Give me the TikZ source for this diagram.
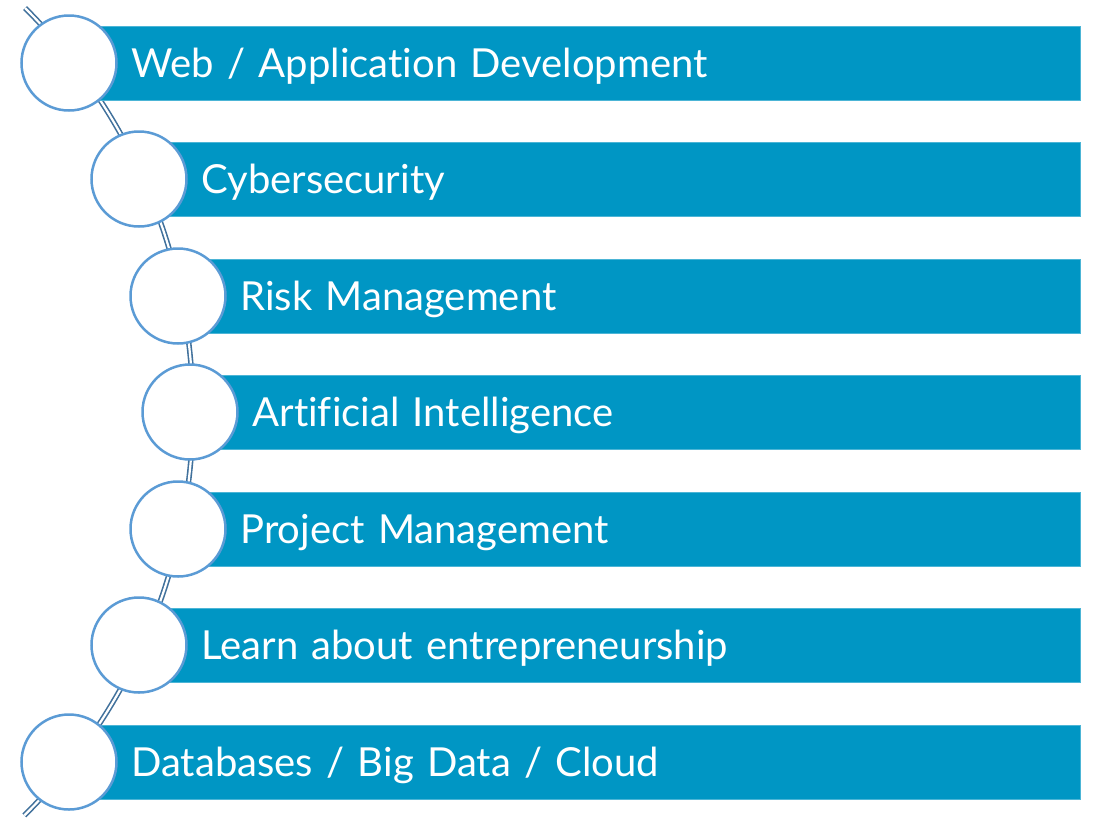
\documentclass[tikz,border=0pt]{standalone}
\usepackage{fontspec}
\setmainfont{Lato}[Ligatures=NoCommon]
\definecolor{barblue}{RGB}{0,150,196}
\definecolor{ringblue}{RGB}{91,155,213}
\definecolor{wireblue}{RGB}{65,113,156}

\begin{document}
\begin{tikzpicture}[x=1pt,y=-1pt,
      bar/.style={rectangle,anchor=west,fill=barblue,draw=barblue!70!white,line width=0.8pt,
        minimum height=74pt,inner xsep=31pt,inner ysep=0pt,align=left,text=white,
        text height=34pt,text depth=6pt,font=\fontsize{40}{46}\selectfont},
      ring/.style={circle,draw=ringblue,fill=white,line width=2.5pt,minimum size=95pt,inner sep=0pt}]
 \useasboundingbox (0,0) rectangle (1094,817);

 % the wire through all rings
 \coordinate (top) at (25,8);
 \draw[wireblue,line width=1.6pt,double=white,double distance=2.2pt]
   (top) arc[start angle=-45.2,end angle=45.3,radius=568.5];

 \node[bar, text width=918pt] (web)  at (100,63)  {Web / Application Development};
 \node[bar, text width=848pt] (cyb)  at (170,179) {Cybersecurity};
 \node[bar, text width=809pt] (risk) at (209,296) {Risk Management};
 \node[bar, text width=797pt] (ai)   at (221,412) {Artificial Intelligence};
 \node[bar, text width=809pt] (pm)   at (209,529) {Project Management};
 \node[bar, text width=848pt] (ent)  at (170,645) {Learn about entrepreneurship};
 \node[bar, text width=918pt] (db)   at (100,762) {Databases / Big Data / Cloud};

 \node[ring] (c1) at (69,63)  {};
 \node[ring] (c2) at (139,179) {};
 \node[ring] (c3) at (178,296) {};
 \node[ring] (c4) at (190,412) {};
 \node[ring] (c5) at (178,529) {};
 \node[ring] (c6) at (139,645) {};
 \node[ring] (c7) at (69,762) {};
\end{tikzpicture}
\end{document}
